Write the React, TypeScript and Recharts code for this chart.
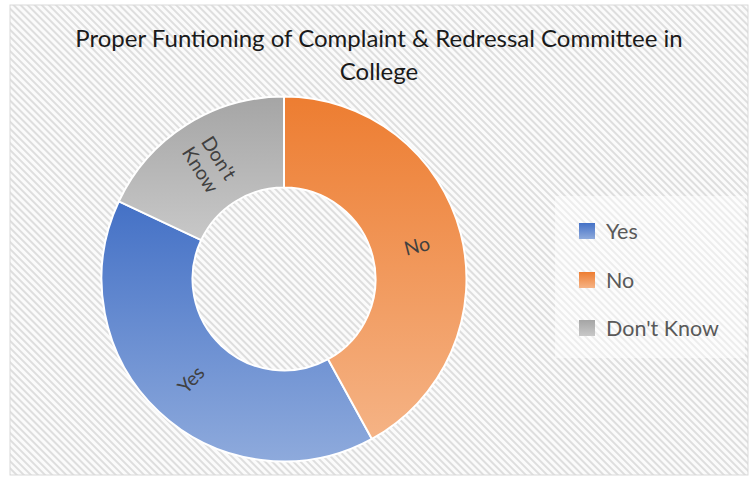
import React from 'react';
import { PieChart, Pie, Cell } from 'recharts';

const titleLines = ['Proper Funtioning of Complaint & Redressal Committee in', 'College'];
const categories = ['Yes', 'No', "Don't Know"];
const values = [40, 42, 18];
const topColors = ['#4471C6', '#ED7D31', '#A5A5A5'];
const bottomColors = ['#8EAADC', '#F5B385', '#C8C8C8'];

const data = categories.map((name, i) => ({ name, value: values[i] }));

const W = 755;
const H = 477;
const CX = 284;
const CY = 279;
const FONT = 'Lato, "Open Sans", sans-serif';
const RAD = Math.PI / 180;

const renderLabel = (props: any) => {
  const { cx, cy, midAngle, innerRadius, outerRadius } = props;
  const name: string = props.name ?? props.payload?.name;
  const r = (innerRadius + outerRadius) / 2;
  const x = cx + r * Math.cos(-midAngle * RAD);
  const y = cy + r * Math.sin(-midAngle * RAD);
  let rot = (((-midAngle) % 360) + 360) % 360;
  if (rot > 90 && rot <= 270) rot -= 180;
  else if (rot > 270) rot -= 360;
  const lines = name === "Don't Know" ? ["Don't", 'Know'] : [name];
  const lh = 22;
  return (
    <text
      x={x}
      y={y}
      transform={`rotate(${rot} ${x} ${y})`}
      textAnchor="middle"
      dominantBaseline="central"
      fill="#404040"
      fontFamily={FONT}
      fontSize={19.5}
    >
      {lines.map((l, i) => (
        <tspan key={i} x={x} dy={i === 0 ? -((lines.length - 1) * lh) / 2 : lh}>
          {l}
        </tspan>
      ))}
    </text>
  );
};

export default function App() {
  const legendY = [231, 280, 328];
  return (
    <div style={{ position: 'absolute', left: 0, top: 0, width: W, height: H, background: '#fff' }}>
      <svg width={W} height={H} style={{ position: 'absolute', left: 0, top: 0 }}>
        <defs>
          <pattern id="hatch" patternUnits="userSpaceOnUse" width="5" height="5" patternTransform="rotate(-45)">
            <rect width="5" height="5" fill="#fbfbfb" />
            <rect width="2" height="5" fill="#dedede" />
          </pattern>
          {categories.map((c, i) => (
            <linearGradient key={c} id={`grad${i}`} x1="0" y1="0" x2="0" y2="1">
              <stop offset="0%" stopColor={topColors[i]} />
              <stop offset="100%" stopColor={bottomColors[i]} />
            </linearGradient>
          ))}
        </defs>
        <rect x={10} y={5} width={738} height={470} fill="url(#hatch)" stroke="#d9d9d9" strokeWidth={1} />
        <rect x={555} y={196} width={190} height={162} fill="#ffffff" fillOpacity={0.45} />
        {titleLines.map((t, i) => (
          <text
            key={i}
            x={379}
            y={47 + i * 33}
            textAnchor="middle"
            fontFamily={FONT}
            fontSize={24}
            fill="#1a1a1a"
          >
            {t}
          </text>
        ))}
        {categories.map((c, i) => (
          <g key={c}>
            <rect x={579} y={legendY[i] - 8} width={16} height={16} fill={`url(#grad${i})`} />
            <text
              x={606}
              y={legendY[i]}
              dominantBaseline="central"
              fontFamily={FONT}
              fontSize={21.5}
              fill="#595959"
            >
              {c}
            </text>
          </g>
        ))}
      </svg>
      <div style={{ position: 'absolute', left: 0, top: 0 }}>
        <PieChart width={W} height={H} margin={{ top: 0, right: 0, bottom: 0, left: 0 }}>
          <Pie
            data={data}
            dataKey="value"
            nameKey="name"
            cx={CX}
            cy={CY}
            innerRadius={91.5}
            outerRadius={182.5}
            startAngle={154.8}
            endAngle={514.8}
            stroke="#ffffff"
            strokeWidth={2}
            label={renderLabel}
            labelLine={false}
            isAnimationActive={false}
          >
            {data.map((d, i) => (
              <Cell key={d.name} fill={`url(#grad${i})`} />
            ))}
          </Pie>
        </PieChart>
      </div>
    </div>
  );
}
